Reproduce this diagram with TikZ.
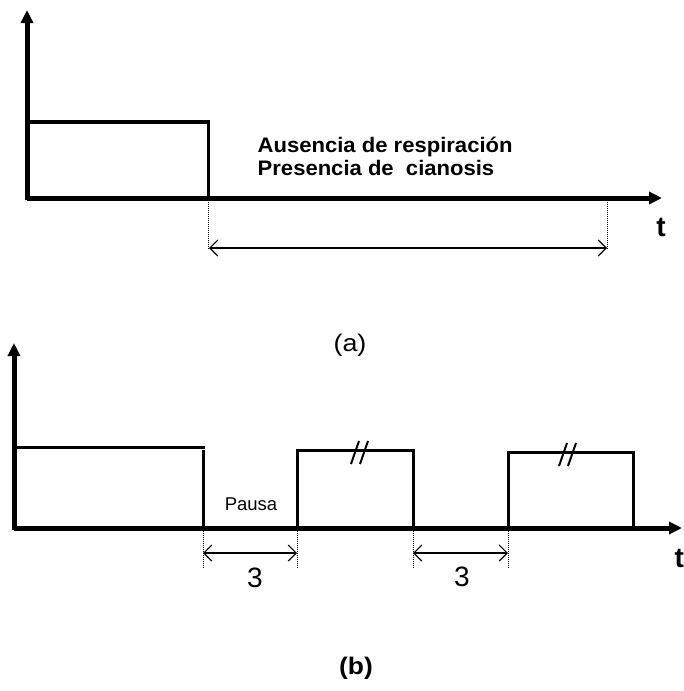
\documentclass[tikz,border=0pt]{standalone}
\usepackage{fontspec}
\setmainfont{Liberation Sans}
\usetikzlibrary{arrows.meta,calc}

\begin{document}
\begin{tikzpicture}[x=1pt,y=-1pt,
  axis/.style={line width=5pt,-{Triangle[length=13pt,width=12pt]}},
  pulse/.style={line width=3pt},
  guide/.style={densely dotted,line width=1pt},
  span/.style={line width=1.1pt,{Straight Barb[length=8pt,width=16pt]}-{Straight Barb[length=8pt,width=16pt]}}]
  \useasboundingbox (0,0) rectangle (683,691);

  % (a)
  \coordinate (o1) at (27,200);
  \coordinate (y1) at (27,10);
  \coordinate (x1) at (662,198);
  \coordinate (a1) at (208,198);
  \coordinate (a2) at (607,198);
  \coordinate (a1b) at (208,250);
  \coordinate (a2b) at (607,250);
  \draw[axis] (o1) -- (y1);
  \draw[axis] (27,198) -- (x1);
  \draw[line width=4pt] (27,122) -- (210,122);
  \draw[pulse] (a1) -- (208,122);
  \draw[guide] (a1) -- (a1b);
  \draw[guide] (a2) -- (a2b);
  \draw[span] ($(a1b)+(1,-2)$) -- ($(a2b)+(0,-2)$);
  \node[font=\bfseries\fontsize{21}{23}\selectfont, xscale=1.05, align=left, anchor=north west] (txt) at (254,134)
    {Ausencia de respiración\\Presencia de~ cianosis};
  \node[font=\bfseries\fontsize{28}{30}\selectfont] (t1) at (661,227) {t};
  \node[font=\fontsize{24}{26}\selectfont, xscale=1.12] (capa) at (350,345) {(a)};

  % (b)
  \coordinate (o2) at (14,530);
  \coordinate (y2) at (14,343);
  \coordinate (x2) at (682,528);
  \draw[axis] (o2) -- (y2);
  \draw[axis] (14,528) -- (x2);
  \draw[pulse] (14,447) -- (205,447);
  \draw[pulse] (203,450) -- (203,528);
  \draw[pulse] (297,528) -- (297,450) -- (413,450) -- (413,528);
  \draw[pulse] (508,528) -- (508,452) -- (633,452) -- (633,528);
  \foreach \bx/\by in {355/450, 563/452} {
    \draw[line width=2pt] (\bx-4,\by+14) -- (\bx+4,\by-9);
    \draw[line width=2pt] (\bx+5,\by+14) -- (\bx+13,\by-9);
  }
  \foreach \gx in {203,297,413,508}
    \draw[guide] (\gx,515) -- (\gx,568);
  \coordinate (p1) at (203,553);
  \coordinate (p2) at (297,553);
  \coordinate (p3) at (413,553);
  \coordinate (p4) at (508,553);
  \draw[span] (p1) -- (p2);
  \draw[span] (p3) -- (p4);
  \node[font=\fontsize{28}{30}\selectfont] (n1) at (255,578) {3};
  \node[font=\fontsize{28}{30}\selectfont] (n2) at (462,577) {3};
  \node[font=\fontsize{18.5}{20}\selectfont] (pausa) at (251,504) {Pausa};
  \node[font=\bfseries\fontsize{28}{30}\selectfont, anchor=west] (t2) at (671,558) {t};
  \node[font=\bfseries\fontsize{24}{26}\selectfont, xscale=1.1] (capb) at (356,668) {(b)};
\end{tikzpicture}
\end{document}
